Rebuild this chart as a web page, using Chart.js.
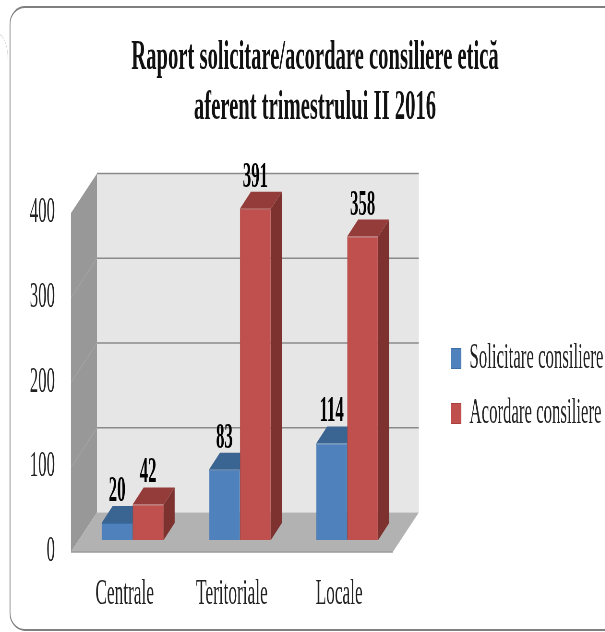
<!DOCTYPE html>
<html>
<head>
<meta charset="utf-8">
<style>
html,body{margin:0;padding:0;background:#fff;overflow:hidden;width:605px;height:632px}
#wrap{width:605px;height:632px;overflow:hidden;position:relative}
canvas{display:block;transform-origin:0 0;filter:blur(0.65px)}
</style>
<script src="https://cdn.jsdelivr.net/npm/chart.js@4"></script>
</head>
<body>
<div id="wrap"><canvas id="c"></canvas></div>
<script>
const titleLines = ["Raport solicitare/acordare consiliere etică", "aferent trimestrului II 2016"];
const categories = ["Centrale", "Teritoriale", "Locale"];
const seriesNames = ["Solicitare consiliere", "Acordare consiliere"];
const solicitare = [20, 83, 114];
const acordare = [42, 391, 358];
const yTicks = [0, 100, 200, 300, 400];

const squeeze = 0.48, k = 1 / squeeze;
const W = Math.round(605 * k), H = 632;
const FONT = "'Liberation Serif','Times New Roman',serif";
const wallDx = 26 * k, wallDy = -39.5;
const barDx = 8 * k, barDy = -12;
const depthX = 11 * k, depthY = -17;
const tops = ["#3A6491", "#943C3A"], sides = ["#2F5580", "#7D3230"];

const cv = document.getElementById('c');
cv.width = W; cv.height = H;
cv.style.transform = 'scaleX(' + squeeze + ')';

function poly(ctx, pts, fill) {
  ctx.beginPath();
  pts.forEach((p, i) => i ? ctx.lineTo(p[0], p[1]) : ctx.moveTo(p[0], p[1]));
  ctx.closePath();
  ctx.fillStyle = fill;
  ctx.fill();
}

const scene = {
  id: 'scene',
  afterLayout(chart) {
    const t = chart.titleBlock;
    t.left = 25 * k; t.right = 605 * k;
    const l = chart.legend, p = l.options.labels.padding;
    l.left = 451 * k - p;
    l.right = W;
    l.top = 341 - p;
    l.bottom = H;
  },
  beforeDraw(chart) {
    const ctx = chart.ctx, a = chart.chartArea, y = chart.scales.y;
    const L = a.left, R = a.right, T = a.top, B = a.bottom;
    ctx.save();
    // panel outline
    const x0 = 10 * k, y0 = 7, y1 = 630, rx = 15 * k, ry = 17;
    ctx.strokeStyle = '#808080'; ctx.lineWidth = 1.8;
    ctx.beginPath();
    ctx.moveTo(W + 10, y0);
    ctx.lineTo(x0 + rx, y0);
    ctx.ellipse(x0 + rx, y0 + ry, rx, ry, 0, -Math.PI / 2, Math.PI, true);
    ctx.lineTo(x0, y1 - ry);
    ctx.ellipse(x0 + rx, y1 - ry, rx, ry, 0, Math.PI, Math.PI / 2, true);
    ctx.lineTo(W + 10, y1);
    ctx.stroke();
    ctx.strokeStyle = '#d4d4d4'; ctx.lineWidth = 1;
    ctx.beginPath();
    ctx.ellipse(-2 * k, 60, 10 * k, 26, 0, -Math.PI / 2, 0);
    ctx.stroke();
    // walls
    poly(ctx, [[L + wallDx, T + wallDy], [R + wallDx, T + wallDy], [R + wallDx, B + wallDy], [L + wallDx, B + wallDy]], '#E6E6E6');
    poly(ctx, [[L, T], [L + wallDx, T + wallDy], [L + wallDx, B + wallDy], [L, B]], '#989898');
    poly(ctx, [[L, B], [L + wallDx, B + wallDy], [R + wallDx, B + wallDy], [R, B]], '#B2B2B2');
    // gridlines from the scale
    y.ticks.forEach(t => {
      const py = y.getPixelForValue(t.value);
      ctx.lineWidth = 1.5;
      ctx.strokeStyle = '#8a8a8a';
      if (t.value > 0) {
        ctx.beginPath(); ctx.moveTo(L + wallDx, py + wallDy); ctx.lineTo(R + wallDx, py + wallDy); ctx.stroke();
      }
      if (t.value > 0 && t.value < 400) {
        ctx.lineWidth = 1; ctx.strokeStyle = '#aaaaaa';
        ctx.beginPath(); ctx.moveTo(L, py); ctx.lineTo(L + wallDx, py + wallDy); ctx.stroke();
      }
    });
    ctx.strokeStyle = '#9a9a9a'; ctx.lineWidth = 1.5;
    ctx.beginPath(); ctx.moveTo(L, B); ctx.lineTo(R, B); ctx.stroke();
    ctx.restore();
  },
  beforeDatasetsDraw(chart) {
    const ctx = chart.ctx;
    [0, 1].forEach(d => {
      chart.getDatasetMeta(d).data.forEach(el => {
        const p = el.getProps(['x', 'y', 'width', 'base'], true);
        const l = p.x - p.width / 2 + barDx, r = p.x + p.width / 2 + barDx;
        const t = p.y + barDy, b = p.base + barDy;
        poly(ctx, [[r, t], [r + depthX, t + depthY], [r + depthX, b + depthY], [r, b]], sides[d]);
        poly(ctx, [[l, t], [l + depthX, t + depthY], [r + depthX, t + depthY], [r, t]], tops[d]);
      });
    });
    ctx.save();
    ctx.translate(barDx, barDy);
  },
  afterDatasetsDraw(chart) {
    const ctx = chart.ctx;
    ctx.restore();
    ctx.save();
    ctx.fillStyle = '#000';
    ctx.font = "bold 35px " + FONT;
    ctx.textAlign = 'center';
    ctx.textBaseline = 'middle';
    chart.data.datasets.forEach((ds, d) => {
      chart.getDatasetMeta(d).data.forEach((el, i) => {
        const p = el.getProps(['x', 'y'], true);
        ctx.fillText(String(ds.data[i]), p.x + barDx, p.y + barDy - 31);
      });
    });
    ctx.restore();
  }
};

new Chart(cv, {
  type: 'bar',
  data: {
    labels: categories,
    datasets: [
      { label: seriesNames[0], data: solicitare, backgroundColor: '#4F81BD', borderColor: '#3A6EA5', borderWidth: 1, clip: false },
      { label: seriesNames[1], data: acordare, backgroundColor: '#C0504D', borderColor: '#A8403D', borderWidth: 1, clip: false }
    ]
  },
  options: {
    responsive: false,
    maintainAspectRatio: false,
    animation: false,
    devicePixelRatio: 1,
    categoryPercentage: 0.578,
    barPercentage: 1,
    layout: { padding: { left: 0, top: 0, bottom: 0, right: 212 * k } },
    scales: {
      x: {
        grid: { display: false, drawTicks: false },
        border: { display: false },
        ticks: { color: '#222', font: { family: FONT, size: 36 }, padding: 21, maxRotation: 0, autoSkip: false },
        afterFit(s) { s.height = 80; }
      },
      y: {
        min: 0, max: 400,
        afterBuildTicks(s) { s.ticks = yTicks.map(v => ({ value: v })); },
        grid: { display: false, drawTicks: false },
        border: { display: false },
        ticks: { color: '#222', font: { family: FONT, size: 35 }, padding: 16 * k },
        afterFit(s) { s.width = 71 * k; }
      }
    },
    plugins: {
      title: {
        display: true,
        text: titleLines,
        color: '#111',
        font: { family: FONT, size: 43, weight: 'bold', lineHeight: 50 / 43 },
        padding: { top: 33, bottom: 80 }
      },
      legend: {
        position: 'chartArea',
        align: 'start',
        labels: { boxWidth: 21, boxHeight: 20, padding: 20, color: '#222', font: { family: FONT, size: 35 } }
      },
      tooltip: { enabled: false }
    }
  },
  plugins: [scene]
});
</script>
</body>
</html>
